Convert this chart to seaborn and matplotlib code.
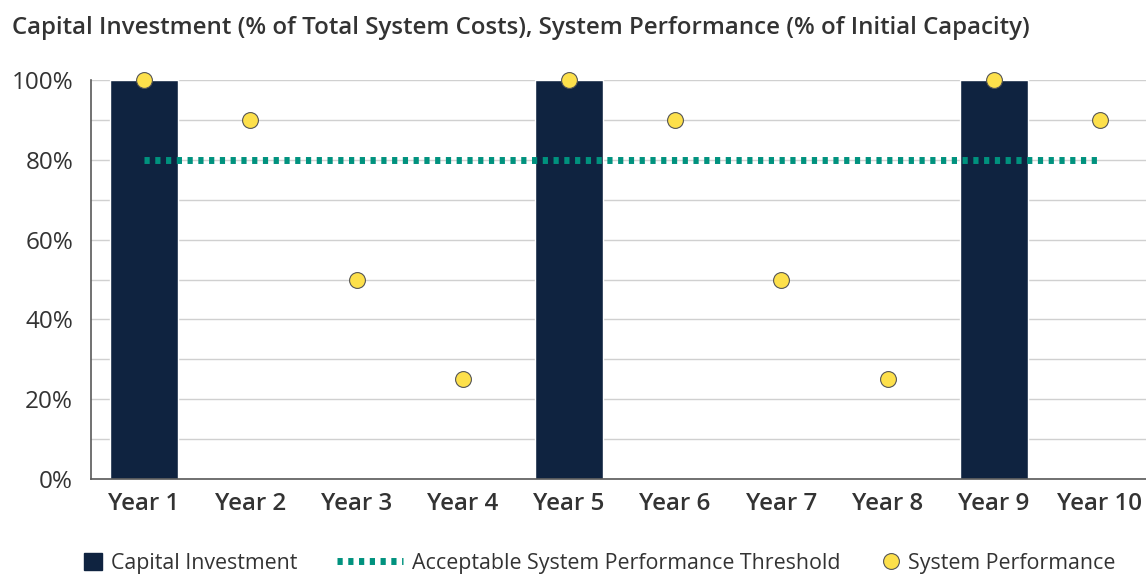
import numpy as np
import pandas as pd
import matplotlib.pyplot as plt
import seaborn as sns
from matplotlib.lines import Line2D
from matplotlib.patches import Patch
from matplotlib.ticker import MultipleLocator, FuncFormatter

# Data
years = ["Year 1", "Year 2", "Year 3", "Year 4", "Year 5",
         "Year 6", "Year 7", "Year 8", "Year 9", "Year 10"]
capital_investment = [100, 0, 0, 0, 100, 0, 0, 0, 100, 0]
system_performance = [100, 90, 50, 25, 100, 90, 50, 25, 100, 90]
threshold = [80, 80, 80, 80, 80, 80, 80, 80, 80, 80]

NAVY = "#0f2340"
TEAL = "#00927e"
YELLOW = "#fde04b"
TEXT = "#333333"
SPINE = "#595959"
W, H = 1146, 574

sns.set_style("white")
plt.rcParams['font.family'] = ['Open Sans', 'DejaVu Sans']

df = pd.DataFrame({
    "year": years,
    "capital": capital_investment,
    "performance": system_performance,
    "threshold": threshold,
})

fig = plt.figure(figsize=(W / 100, H / 100), dpi=100)
ax = fig.add_axes([91 / W, 95 / H, 1062 / W, 399 / H])

sns.barplot(data=df, x="year", y="capital", color=NAVY, width=0.64,
            saturation=1, ax=ax, zorder=2)
sns.lineplot(data=df, x="year", y="threshold", color=TEAL, linewidth=5,
             ax=ax, zorder=3, sort=False)
ax.lines[-1].set_dashes((0.75, 0.8))
ax.lines[-1].set_dash_capstyle("butt")
sns.scatterplot(data=df, x="year", y="performance", color=YELLOW, s=130,
                edgecolor="#555555", linewidth=0.8, ax=ax, zorder=4, clip_on=False)

ax.set_xlim(-0.5, 9.5)
ax.set_ylim(0, 100)
ax.yaxis.set_major_locator(MultipleLocator(20))
ax.yaxis.set_minor_locator(MultipleLocator(10))
ax.yaxis.set_major_formatter(FuncFormatter(lambda v, p: f"{v:.0f}%"))
ax.grid(axis="y", which="both", color="#d0d0d0", linewidth=1, zorder=0)
ax.set_axisbelow(True)

ax.set_xticks(range(len(years)))
ax.set_xticklabels(years, fontsize=17.4, fontweight="semibold", color=TEXT)
ax.set_xticks(np.arange(-0.5, 10, 1), minor=True)
ax.tick_params(axis="x", which="major", length=0, pad=9)
ax.tick_params(axis="x", which="minor", length=4.5, width=1.2, color=SPINE, direction="out")
ax.tick_params(axis="y", which="both", length=5.8, width=1.2, color=SPINE,
               direction="out", labelsize=17.5, labelcolor=TEXT, pad=7)
ax.tick_params(axis="y", which="minor", labelleft=False)

for side in ["top", "right"]:
    ax.spines[side].set_visible(False)
for side in ["left", "bottom"]:
    ax.spines[side].set_color(SPINE)
    ax.spines[side].set_linewidth(1.2)

ax.set_xlabel("")
ax.set_ylabel("")

fig.text(12 / W, 1 - 28 / H,
         "Capital Investment (% of Total System Costs), System Performance (% of Initial Capacity)",
         fontsize=17.3, fontweight="semibold", color=TEXT, va="center", ha="left")

# legend: three separate entries placed along the bottom
LEG_Y = 1 - 563 / H
leg_kw = dict(loc="center left", frameon=False, fontsize=15.4, labelcolor=TEXT,
              borderpad=0, borderaxespad=0)
fig.legend([Patch(facecolor=NAVY, edgecolor=NAVY)], ["Capital Investment"],
           bbox_to_anchor=(84 / W, LEG_Y), handlelength=0.85, handleheight=0.85,
           handletextpad=0.4, **leg_kw)
fig.legend([Line2D([0], [0], color=TEAL, linewidth=5, dashes=(0.75, 0.8), dash_capstyle="butt")],
           ["Acceptable System Performance Threshold"],
           bbox_to_anchor=(337 / W, LEG_Y), handlelength=3.1, handletextpad=0.4, **leg_kw)
fig.legend([Line2D([0], [0], marker="o", linestyle="", markerfacecolor=YELLOW,
                   markeredgecolor="#555555", markeredgewidth=0.8, markersize=11.4)],
           ["System Performance"],
           bbox_to_anchor=(880 / W, LEG_Y), handlelength=1.0, handletextpad=0.3, **leg_kw)

fig.savefig("out.png", dpi=100)
